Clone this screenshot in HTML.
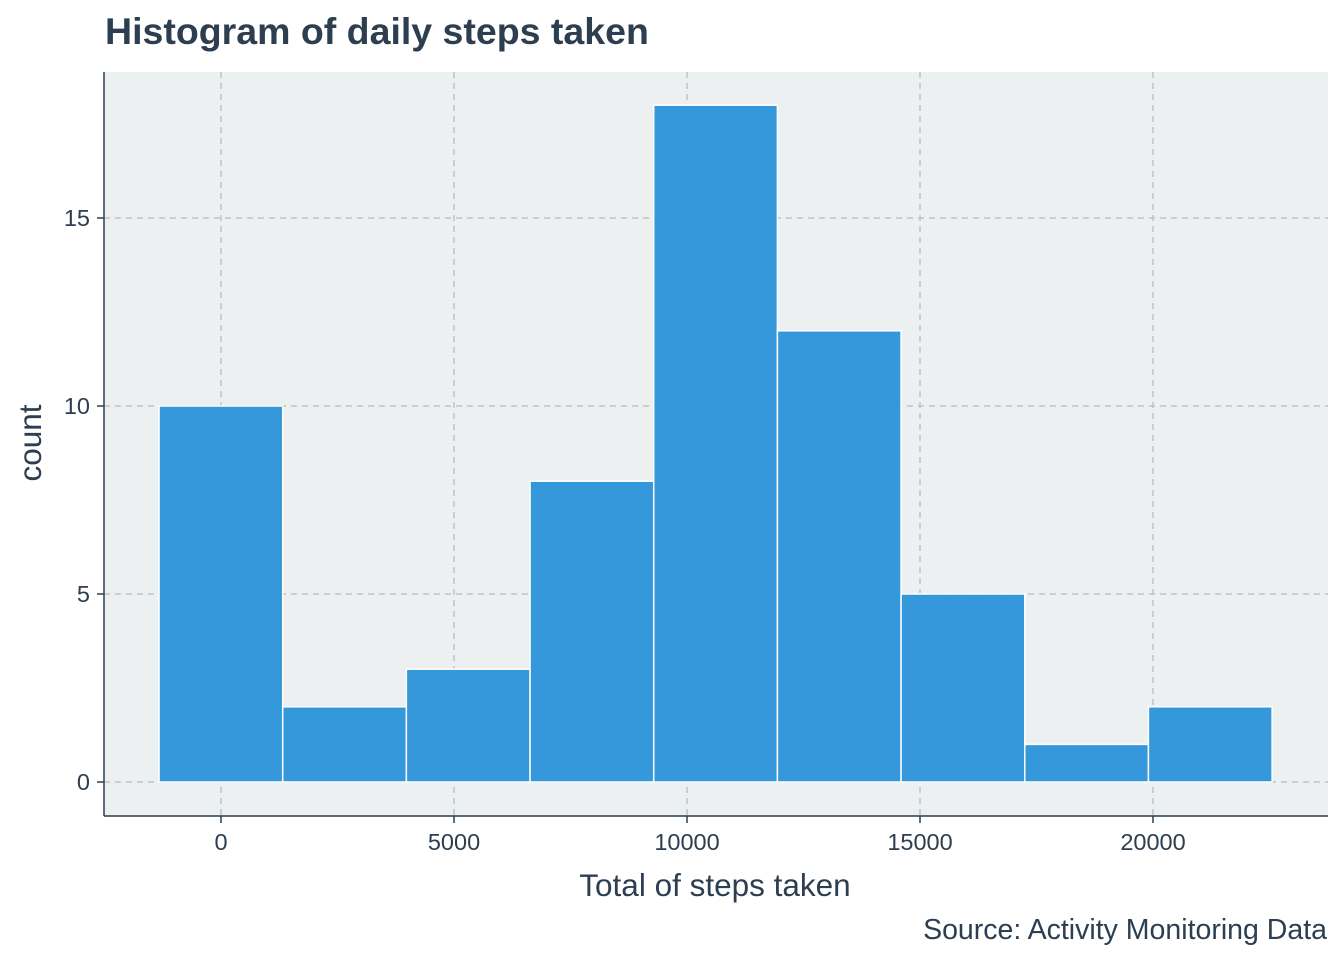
<!DOCTYPE html>
<html><head><meta charset="utf-8"><style>
body{margin:0;background:#fff;}
svg text{font-family:"Liberation Sans",Arial,sans-serif;}
</style></head><body>
<svg width="1344" height="960" xmlns="http://www.w3.org/2000/svg">
<text x="105" y="44" font-size="37.5" font-weight="bold" fill="#2c3e50">Histogram of daily steps taken</text>
<rect x="104" y="72" width="1224" height="744" fill="#ecf0f1"/>
<g id="grid"></g>
<g id="bars"></g>
<line x1="104" y1="72" x2="104" y2="816" stroke="#2c3e50" stroke-width="1.5"/>
<line x1="104" y1="816" x2="1328" y2="816" stroke="#2c3e50" stroke-width="1.5"/>
<g id="ticks"></g>
<text x="715" y="896" font-size="31.5" fill="#2c3e50" text-anchor="middle">Total of steps taken</text>
<text transform="translate(41,443) rotate(-90)" font-size="31.5" fill="#2c3e50" text-anchor="middle">count</text>
<text x="1327" y="939" font-size="28.5" fill="#2c3e50" text-anchor="end">Source: Activity Monitoring Data</text>
</svg>
<script>
const binStart = -1330;
const binWidth = 2654;
const counts = [10, 2, 3, 8, 18, 12, 5, 1, 2];
const xTicks = [0, 5000, 10000, 15000, 20000];
const yTicks = [0, 5, 10, 15];
const NS = "http://www.w3.org/2000/svg";
function xs(v){return 221 + v * (233/5000);}
function ys(v){return 782 - v * 37.6;}
function mk(tag, attrs, parent){const e=document.createElementNS(NS,tag);for(const k in attrs)e.setAttribute(k,attrs[k]);document.getElementById(parent).appendChild(e);return e;}
xTicks.forEach(t=>{
  const l=mk('line',{x1:xs(t),x2:xs(t),y1:72,y2:816,stroke:'#bdc3c7','stroke-width':1.5,'stroke-dasharray':'6 5'},'grid');
  
  
  const tk=mk('line',{x1:xs(t),x2:xs(t),y1:816,y2:823,stroke:'#2c3e50','stroke-width':1.5},'ticks');
  
  
  const tx=mk('text',{x:xs(t),y:850,'font-size':23.5,fill:'#2c3e50','text-anchor':'middle'},'ticks');
  tx.textContent=t;
  
  
});
yTicks.forEach(t=>{
  const l=mk('line',{x1:104,x2:1328,y1:ys(t),y2:ys(t),stroke:'#bdc3c7','stroke-width':1.5,'stroke-dasharray':'6 5'},'grid');
  
  
  const tk=mk('line',{x1:97,x2:104,y1:ys(t),y2:ys(t),stroke:'#2c3e50','stroke-width':1.5},'ticks');
  
  
  const tx=mk('text',{x:90,y:ys(t)+8,'font-size':23.5,fill:'#2c3e50','text-anchor':'end'},'ticks');
  tx.textContent=t;
  
  
});
counts.forEach((c,i)=>{
  const x0=xs(binStart+i*binWidth), x1=xs(binStart+(i+1)*binWidth);
  const r=mk('rect',{x:x0,y:ys(c),width:x1-x0,height:ys(0)-ys(c),fill:'#3498db',stroke:'#ffffff','stroke-width':1.5},'bars');
  
  
});
</script>
</body></html>
